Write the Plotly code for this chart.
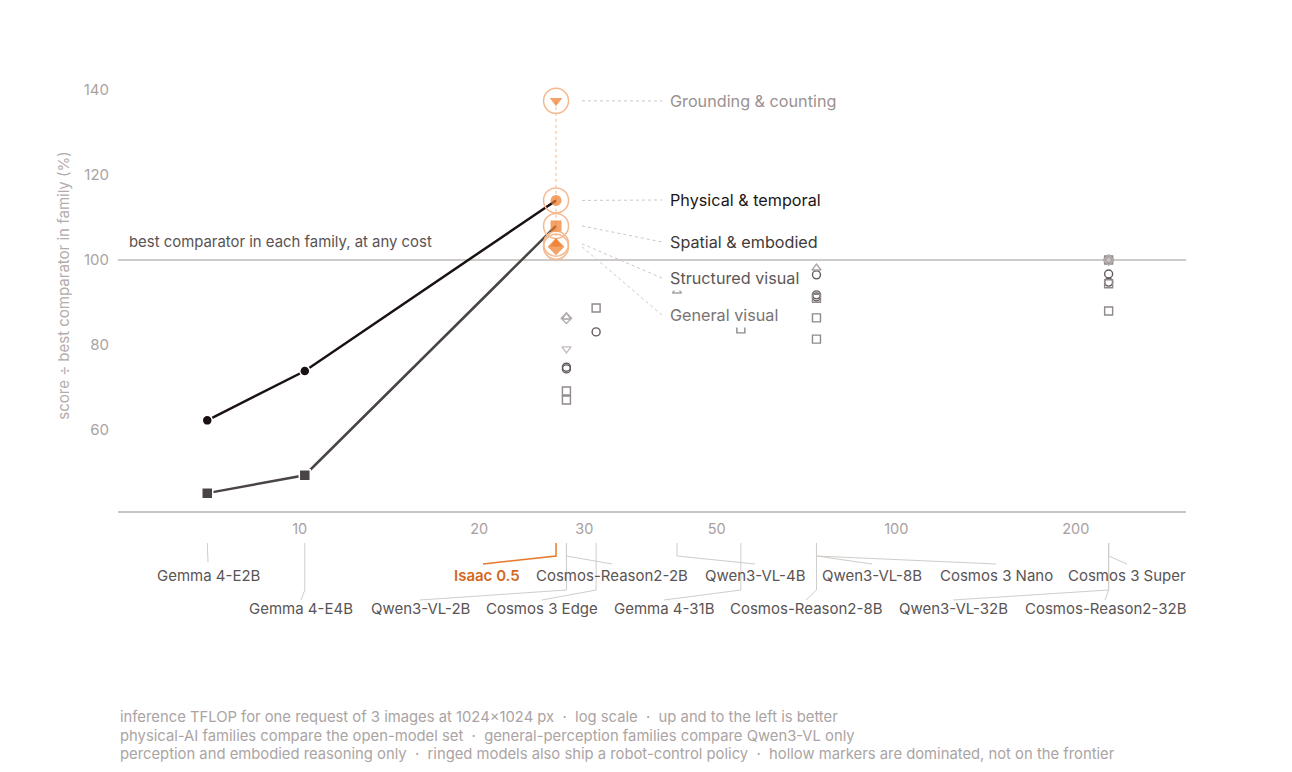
import math
import plotly.graph_objects as go

# ---------------- data ----------------
categories = ["Grounding & counting", "Physical & temporal", "Spatial & embodied",
              "Structured visual", "General visual"]
symbols = ["triangle-down", "circle", "square", "triangle-up", "diamond"]

models = ["Gemma 4-E2B", "Gemma 4-E4B", "Isaac 0.5", "Cosmos-Reason2-2B", "Qwen3-VL-2B",
          "Cosmos 3 Edge", "Qwen3-VL-4B", "Gemma 4-31B", "Cosmos-Reason2-8B", "Qwen3-VL-8B",
          "Cosmos 3 Nano", "Cosmos 3 Super", "Cosmos-Reason2-32B", "Qwen3-VL-32B"]
tflop = [7.0, 10.2, 26.9, 28.0, 28.0, 31.4, 42.9, 54.9, 73.5, 73.5, 73.5, 227, 227, 227]

isaac_scores = [137.4, 114.0, 108.0, 103.8, 103.1]

frontier_models = ["Gemma 4-E2B", "Gemma 4-E4B", "Isaac 0.5"]
frontier_physical = [62.3, 73.9, 114.0]
frontier_spatial = [45.2, 49.4, 108.0]

dom_grounding_models = ["Qwen3-VL-2B", "Qwen3-VL-32B"]
dom_grounding = [79.1, 100.0]
dom_physical_models = ["Cosmos-Reason2-2B", "Qwen3-VL-2B", "Cosmos 3 Edge", "Cosmos 3 Nano",
                       "Cosmos-Reason2-8B", "Qwen3-VL-8B", "Cosmos 3 Super",
                       "Cosmos-Reason2-32B", "Qwen3-VL-32B"]
dom_physical = [74.8, 74.4, 83.1, 96.5, 91.8, 91.3, 100.0, 96.7, 94.8]
dom_spatial_models = ["Cosmos-Reason2-2B", "Qwen3-VL-2B", "Cosmos 3 Edge", "Gemma 4-31B",
                      "Cosmos 3 Nano", "Cosmos-Reason2-8B", "Qwen3-VL-8B", "Cosmos 3 Super",
                      "Cosmos-Reason2-32B", "Qwen3-VL-32B"]
dom_spatial = [69.2, 67.1, 88.7, 83.8, 91.0, 86.4, 81.4, 100.0, 94.4, 88.0]
dom_structured_models = ["Qwen3-VL-2B", "Qwen3-VL-4B", "Qwen3-VL-8B", "Qwen3-VL-32B"]
dom_structured = [86.6, 92.7, 98.1, 100.0]
dom_general_models = ["Qwen3-VL-2B", "Qwen3-VL-32B"]
dom_general = [86.3, 100.0]

x_ticks = [10, 20, 30, 50, 100, 200]
y_ticks = [60, 80, 100, 120, 140]

footer_lines = [
    "inference TFLOP for one request of 3 images at 1024×1024 px  ·  log scale  ·  up and to the left is better",
    "physical-AI families compare the open-model set  ·  general-perception families compare Qwen3-VL only",
    "perception and embodied reasoning only  ·  ringed models also ship a robot-control policy  ·  hollow markers are dominated, not on the frontier",
]

# ---------------- layout helpers (page pixel coordinates) ----------------
OFF = 8                      # page body margin
PAGE_W, PAGE_H = 1292, 772
W, H = PAGE_W - 2 * OFF, PAGE_H - 2 * OFF
PL, PR = 118, 1186           # plot left / right (page px)
PT, PB = 60, 672             # plot top / bottom of full domain (page px)
AXIS_PX = 511
ML, MR = PL - OFF, (W + OFF) - PR
MT, MB = PT - OFF, (H + OFF) - PB
X_RANGE = [math.log10(4.96), math.log10(306)]
Y_RANGE = [41, 147]
FONT = "Inter"

def px2x(px):
    return 10 ** (X_RANGE[0] + (px - PL) / (PR - PL) * (X_RANGE[1] - X_RANGE[0]))

def px2paperx(px):
    return (px - PL) / (PR - PL)

def py2papery(py):
    return (PB - py) / (PB - PT)

main_dom0 = py2papery(AXIS_PX)

xmap = dict(zip(models, tflop))
cat_label_colors = ["#9a9191", "#1c1616", "#403a3a", "#5e5757", "#7a7373"]
hollow_colors = ["#c2bcbc", "#625b5b", "#8f8989", "#a9a3a3", "#b5b0b0"]
ORANGE = "#f07a28"
RING = "#f6b98e"

fig = go.Figure()

# dominated (hollow) markers
dom_sets = [(dom_grounding_models, dom_grounding), (dom_physical_models, dom_physical),
            (dom_spatial_models, dom_spatial), (dom_structured_models, dom_structured),
            (dom_general_models, dom_general)]
for i, (ms, vals) in enumerate(dom_sets):
    fig.add_trace(go.Scatter(
        x=[xmap[m] for m in ms], y=vals, mode="markers",
        marker=dict(symbol=symbols[i] + "-open", size=8, color=hollow_colors[i],
                    line=dict(width=1.4, color=hollow_colors[i])),
        showlegend=False, hoverinfo="skip"))

# frontier lines
for vals, col, sym, sz in [(frontier_spatial, "#4a4444", "square", 11),
                           (frontier_physical, "#1a1212", "circle", 10)]:
    fig.add_trace(go.Scatter(
        x=[xmap[m] for m in frontier_models], y=vals, mode="lines",
        line=dict(color=col, width=2.5), showlegend=False, hoverinfo="skip"))
    fig.add_trace(go.Scatter(
        x=[xmap[m] for m in frontier_models[:-1]], y=vals[:-1], mode="markers",
        marker=dict(symbol=sym, size=sz, color=col, line=dict(color="white", width=1.5)),
        showlegend=False, hoverinfo="skip"))

ix = xmap["Isaac 0.5"]
# vertical dotted connector for Isaac
fig.add_trace(go.Scatter(x=[ix, ix], y=[max(isaac_scores), min(isaac_scores)], mode="lines",
                         line=dict(color=RING, width=1, dash="dot"),
                         showlegend=False, hoverinfo="skip"))

# category leader lines from Isaac markers to labels
label_py = [101, 200, 242, 278, 315]
label_y = [Y_RANGE[0] + (AXIS_PX - p) / (AXIS_PX - PT) * (Y_RANGE[1] - Y_RANGE[0]) for p in label_py]
lx, ly = [], []
for v, yl in zip(isaac_scores, label_y):
    lx += [px2x(582), px2x(662), None]
    ly += [v, yl, None]
fig.add_trace(go.Scatter(x=lx, y=ly, mode="lines", line=dict(color="#cbc7c7", width=1, dash="dot"),
                         showlegend=False, hoverinfo="skip"))

# Isaac rings + filled markers
fig.add_trace(go.Scatter(x=[ix] * 5, y=isaac_scores, mode="markers",
                         marker=dict(symbol="circle-open", size=25, color=RING,
                                     line=dict(width=1.5, color=RING)),
                         showlegend=False, hoverinfo="skip"))
fig.add_trace(go.Scatter(x=[ix] * 5, y=isaac_scores, mode="markers",
                         marker=dict(symbol=symbols, size=[11, 11, 11, 11, 13], color=ORANGE,
                                     line=dict(width=0)),
                         showlegend=False, hoverinfo="skip"))

# ---------------- model labels under the axis ----------------
label_pos = {  # pixel centre, row
    "Gemma 4-E2B": (208, 1), "Isaac 0.5": (487, 1), "Cosmos-Reason2-2B": (612, 1),
    "Qwen3-VL-4B": (755, 1), "Qwen3-VL-8B": (872, 1), "Cosmos 3 Nano": (996, 1),
    "Cosmos 3 Super": (1127, 1),
    "Gemma 4-E4B": (301, 2), "Qwen3-VL-2B": (420, 2), "Cosmos 3 Edge": (542, 2),
    "Gemma 4-31B": (664, 2), "Cosmos-Reason2-8B": (806, 2), "Qwen3-VL-32B": (953, 2),
    "Cosmos-Reason2-32B": (1105, 2),
}
row_text_py = {1: 575, 2: 608}
row_knee_py = {1: 556, 2: 590}
row_end_py = {1: 564, 2: 600}

gx, gy, ox, oy = [], [], [], []
for m in models:
    cx, row = label_pos[m]
    xs = [xmap[m], xmap[m], px2x(cx), None]
    ys = [-543, -row_knee_py[row], -row_end_py[row], None]
    if m == "Gemma 4-E2B":
        ys = [-543, -556, -562, None]
    if m == "Isaac 0.5":
        xs = [xmap[m], xmap[m], px2x(483), None]
        ox += xs; oy += ys
    else:
        gx += xs; gy += ys
fig.add_trace(go.Scatter(x=gx, y=gy, yaxis="y2", mode="lines",
                         line=dict(color="#d0ccc9", width=1), showlegend=False, hoverinfo="skip"))
fig.add_trace(go.Scatter(x=ox, y=oy, yaxis="y2", mode="lines",
                         line=dict(color="#e8782a", width=1.5), showlegend=False, hoverinfo="skip"))

annotations = []
for m in models:
    cx, row = label_pos[m]
    isaac = m == "Isaac 0.5"
    annotations.append(dict(
        x=px2paperx(cx), y=py2papery(row_text_py[row]), xref="paper", yref="paper",
        text=m, showarrow=False, xanchor="center", yanchor="middle",
        font=dict(family=FONT, size=15, color="#d2691f" if isaac else "#5a5454",
                  weight=600 if isaac else 400)))

# category labels
for c, yl, col in zip(categories, label_y, cat_label_colors):
    annotations.append(dict(
        x=px2paperx(667), y=yl, xref="paper", yref="y", text=c, showarrow=False,
        xanchor="left", yanchor="middle", bgcolor="white", borderpad=2,
        font=dict(family=FONT, size=16.2, color=col)))

annotations.append(dict(
    x=px2paperx(127), y=100, xref="paper", yref="y", yshift=7,
    text="best comparator in each family, at any cost", showarrow=False,
    xanchor="left", yanchor="bottom", font=dict(family=FONT, size=14.9, color="#5a5252")))

for line, py in zip(footer_lines, [717, 736, 754]):
    annotations.append(dict(
        x=0, y=py2papery(py), xref="paper", yref="paper", text=line, showarrow=False,
        xanchor="left", yanchor="middle", font=dict(family=FONT, size=14.8, color="#aba4a4")))

fig.update_layout(
    width=W, height=H, margin=dict(l=ML, r=MR, t=MT, b=MB),
    paper_bgcolor="white", plot_bgcolor="white",
    font=dict(family=FONT),
    showlegend=False,
    xaxis=dict(type="log", range=X_RANGE, tickvals=x_ticks, ticktext=[str(t) for t in x_ticks],
               showgrid=False, zeroline=False, showline=True, linecolor="#c8c4c0", linewidth=1.5,
               ticks="", ticklabelstandoff=4, tickfont=dict(family=FONT, size=14.5, color="#a8a0a0"),
               anchor="y"),
    yaxis=dict(domain=[main_dom0, 1], range=Y_RANGE, tickvals=y_ticks, showgrid=False,
               zeroline=False, showline=False, ticks="", ticklabelstandoff=8,
               tickfont=dict(family=FONT, size=15, color="#aaa3a3"),
               title=dict(text="score ÷ best comparator in family (%)", standoff=10,
                          font=dict(family=FONT, size=15, color="#b3acac"))),
    yaxis2=dict(domain=[0, main_dom0], range=[-PB, -AXIS_PX], anchor="x", visible=False),
    shapes=[dict(type="line", xref="paper", yref="y", x0=0, x1=1, y0=100, y1=100,
                 line=dict(color="#bdb8b4", width=1.5), layer="below")],
    annotations=annotations,
)

fig.write_html("out.html")
